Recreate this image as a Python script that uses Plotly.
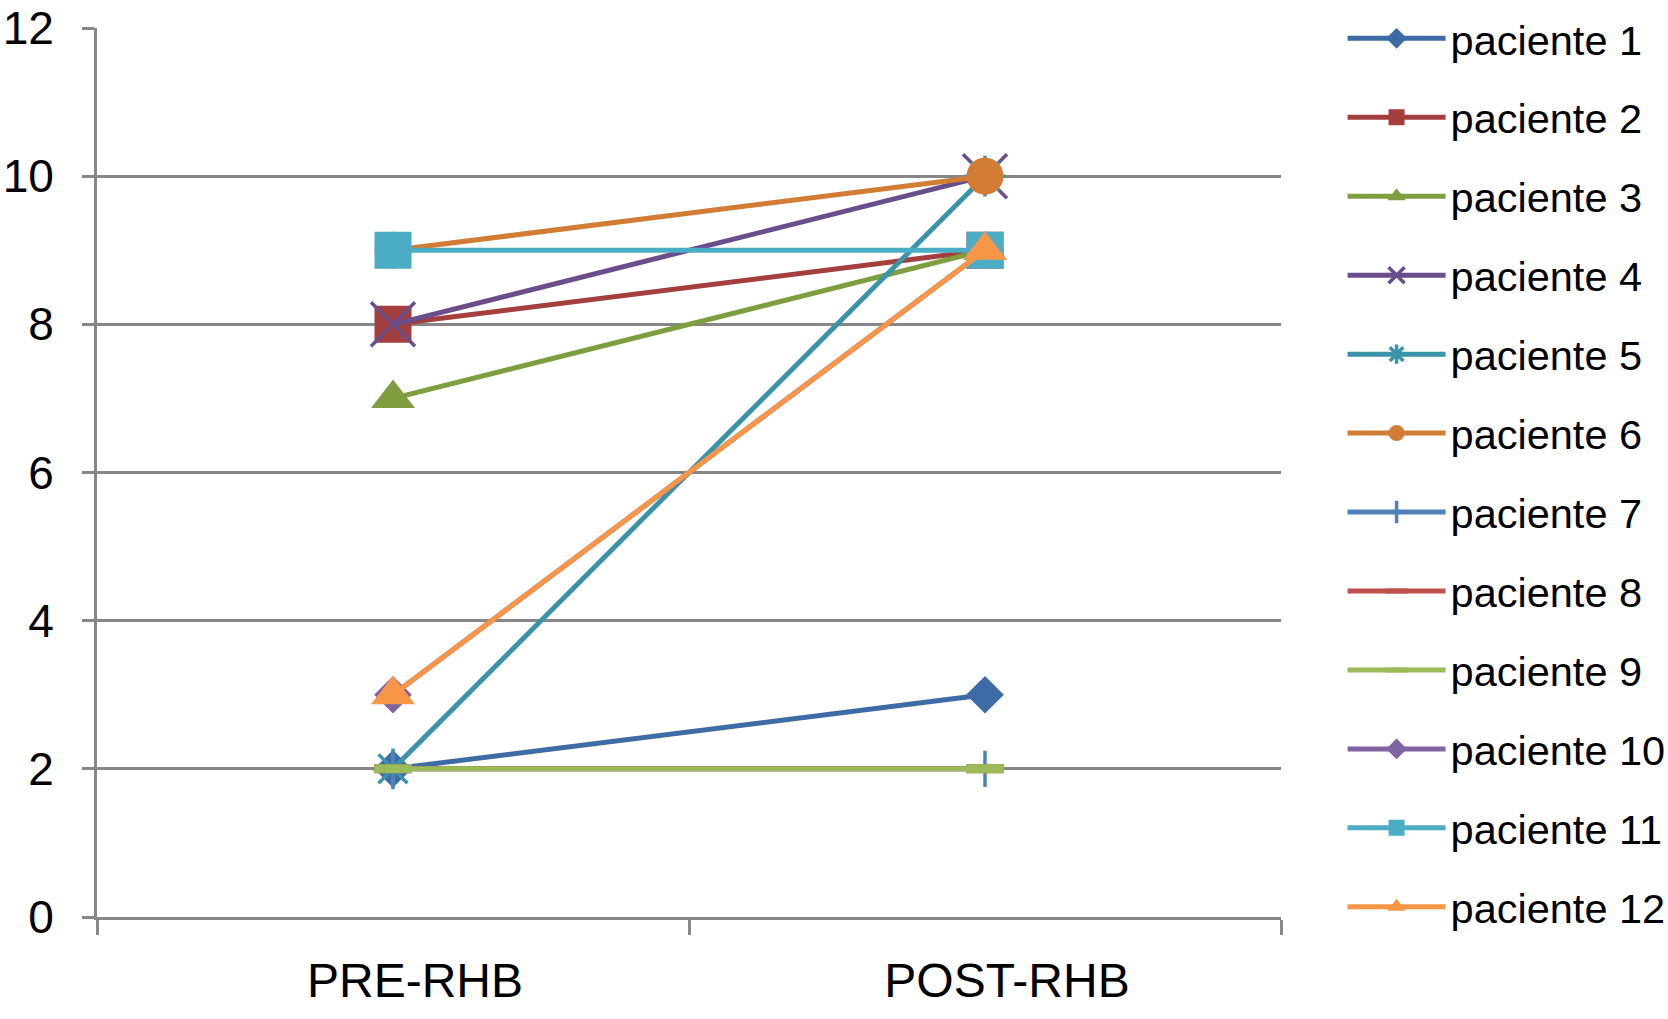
import plotly.graph_objects as go

categories = ["PRE-RHB", "POST-RHB"]
patients = ["paciente %d" % i for i in range(1, 13)]
values = [
    [2, 3],   # 1
    [8, 9],   # 2
    [7, 9],   # 3
    [8, 10],  # 4
    [2, 10],  # 5
    [9, 10],  # 6
    [2, 2],   # 7
    [2, 2],   # 8
    [2, 2],   # 9
    [3, 9],   # 10
    [9, 9],   # 11
    [3, 9],   # 12
]
y_ticks = [0, 2, 4, 6, 8, 10, 12]

colors = ["#3C6BA5", "#A33F3C", "#7E9E40", "#6A4E8C", "#3A93A8", "#D27C35",
          "#4F81BD", "#C0504D", "#9BBB59", "#8064A2", "#4BACC6", "#F79646"]
symbols = ["diamond", "square", "triangle-up", "x-thin", "asterisk", "circle",
           "cross-thin", "line-ew", "line-ew", "diamond", "square", "triangle-up"]
sizes = [29, 37, 38, 44, 34, 37, 26, 27, 27, 29, 37, 38]

fig = go.Figure()
for i, (name, vals) in enumerate(zip(patients, values)):
    sym = symbols[i]
    thin = sym in ("x-thin", "asterisk", "cross-thin", "line-ew")
    lw = 9 if sym == "line-ew" else (3.5 if thin else 0)
    fig.add_trace(go.Scatter(
        x=categories, y=vals, name=name, mode="lines+markers",
        legendgroup=name,
        line=dict(color=colors[i], width=5),
        marker=dict(symbol=sym, size=sizes[i], color=colors[i],
                    line=dict(color=colors[i], width=lw)),
    ))

grid = "#878787"
fig.update_layout(
    width=1668, height=1019,
    margin=dict(l=97, r=387, t=28, b=102, autoexpand=False),
    paper_bgcolor="white", plot_bgcolor="white",
    font=dict(family="Liberation Sans, Arial, sans-serif", size=48, color="black"),
    showlegend=True,
    legend=dict(x=1.052, xanchor="left", y=1.026, yanchor="top",
                font=dict(size=41.5), itemwidth=98, tracegroupgap=22,
                maxheight=1019, bgcolor="rgba(0,0,0,0)"),
    xaxis=dict(type="category", range=[-0.5, 1.5], tickson="boundaries",
               ticks="outside", ticklen=15, tickwidth=3, tickcolor=grid,
               showline=True, linecolor=grid, linewidth=3, showgrid=False,
               ticklabelstandoff=19, ticklabelshift=22, automargin=False,
               ticklabeloverflow="allow"),
    yaxis=dict(range=[0, 12], tickvals=y_ticks, showgrid=True, gridcolor=grid,
               gridwidth=3, zeroline=False, showline=True, linecolor=grid,
               linewidth=3, ticks="outside", ticklen=12, tickwidth=3,
               tickcolor=grid, ticklabelstandoff=19, automargin=False,
               ticklabeloverflow="allow", tickfont=dict(size=46)),
)
fig.write_html("out.html", config={"displayModeBar": False},
               post_script="document.body.style.margin='0';")
